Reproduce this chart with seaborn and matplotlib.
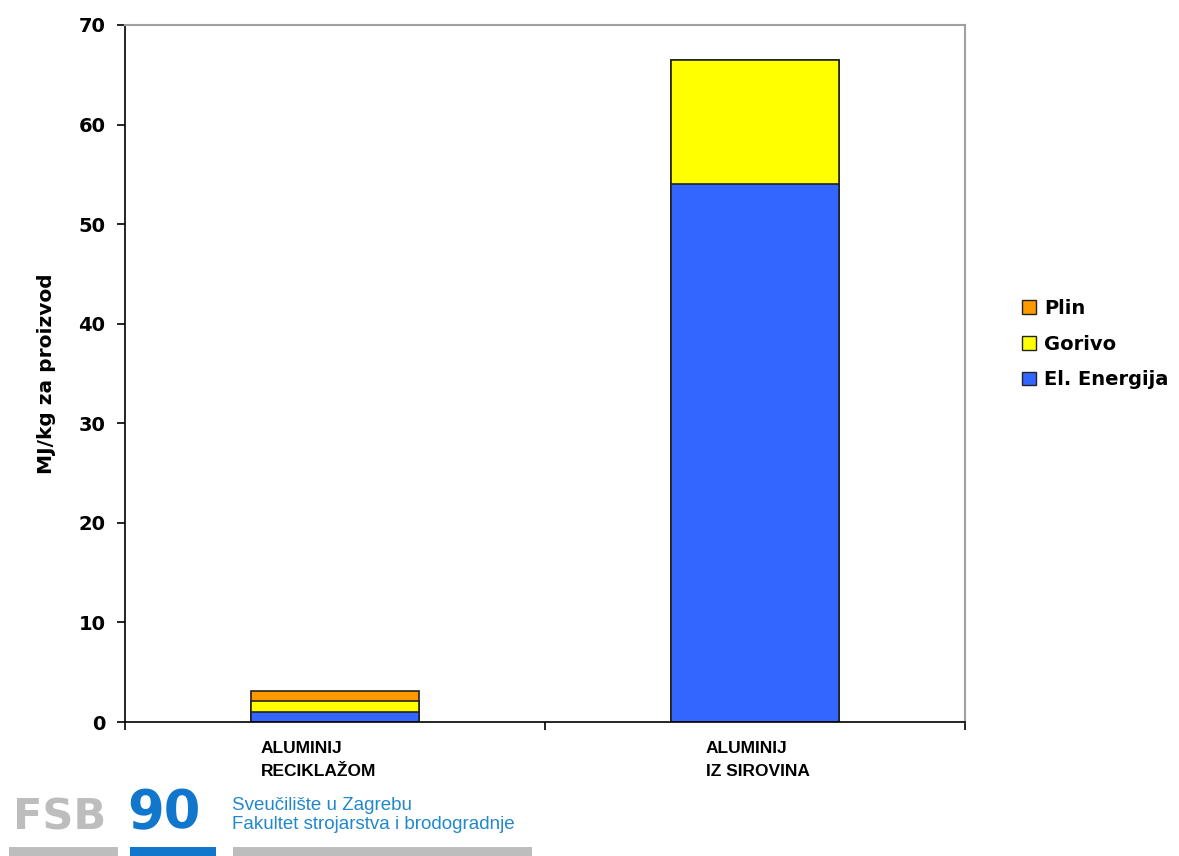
import matplotlib
matplotlib.use("Agg")

import matplotlib.pyplot as plt
import seaborn as sns
import pandas as pd
from matplotlib.patches import Patch, Rectangle

# --- data ---
categories = ["ALUMINIJ\nRECIKLAŽOM", "ALUMINIJ\nIZ SIROVINA"]
el_energija = [1.0, 54.0]
gorivo = [1.1, 12.5]
plin = [1.0, 0.0]

series_names = ["El. Energija", "Gorivo", "Plin"]
series_colors = ["#3366FF", "#FFFF00", "#FF9900"]

df = pd.DataFrame({
    "kategorija": categories,
    "El. Energija": el_energija,
    "Gorivo": gorivo,
    "Plin": plin,
})

sns.set_style("white")
plt.rcParams["font.family"] = ["DejaVu Sans"]
for k in ["text.color", "axes.labelcolor", "xtick.color", "ytick.color"]:
    plt.rcParams[k] = "black"

fig = plt.figure(figsize=(11.79, 8.56), dpi=100)
ax = fig.add_axes([0.106, 0.1565, 0.7125, 0.8143])

# stacked bars: draw cumulative totals from the top segment down
cum = df[series_names].cumsum(axis=1)
for name, color in reversed(list(zip(series_names, series_colors))):
    sns.barplot(x=df["kategorija"], y=cum[name], ax=ax, color=color,
                width=0.4, edgecolor="#222222", linewidth=1.2, saturation=1)

ax.set_ylim(0, 70)
ax.set_xlim(-0.5, 1.5)
ax.set_yticks(range(0, 71, 10))
ax.set_ylabel("MJ/kg za proizvod", fontsize=14.5, fontweight="bold", labelpad=16)
ax.set_xlabel("")

# category separators as x ticks, labels placed under the bars
ax.set_xticks([-0.5, 0.5, 1.5])
ax.set_xticklabels([])
label_x = [-0.176, 0.883]
for xpos, lab in zip(label_x, categories):
    ax.text(xpos, -1.9, lab, ha="left", va="top", fontsize=12.5, fontweight="bold",
            family=["Liberation Sans", "DejaVu Sans"], linespacing=1.7)

ax.tick_params(axis="both", direction="out", length=6, width=1.2, color="black",
               bottom=True, left=True)
ax.tick_params(axis="y", labelsize=14, pad=8)
for lbl in ax.get_yticklabels():
    lbl.set_fontweight("bold")
for s in ["left", "bottom"]:
    ax.spines[s].set_color("black")
    ax.spines[s].set_linewidth(1.2)
for s in ["top", "right"]:
    ax.spines[s].set_color("#A0A0A0")
    ax.spines[s].set_linewidth(1.5)

handles = [Patch(facecolor=c, edgecolor="#222222", label=n)
           for n, c in zip(series_names[::-1], series_colors[::-1])]
leg = fig.legend(handles=handles, loc="center left", bbox_to_anchor=(0.859, 0.598),
                 frameon=False, fontsize=14, handlelength=0.7, handleheight=0.7,
                 handletextpad=0.4, labelspacing=0.85, borderpad=0)
for t in leg.get_texts():
    t.set_fontweight("bold")

# institutional logo in the lower-left corner
fig.text(0.011, 0.021, "FSB", fontsize=31, fontweight="bold", color="#BDBDBD",
         va="bottom", ha="left")
fig.text(0.108, 0.019, "90", fontsize=38, fontweight="bold", color="#1177CC",
         va="bottom", ha="left")
fig.text(0.197, 0.069, "Sveučilište u Zagrebu\nFakultet strojarstva i brodogradnje",
         fontsize=13.5, color="#2288CC", va="top", ha="left",
         family=["Liberation Sans", "DejaVu Sans"], linespacing=1.15)
for x0, w, c in [(0.008, 0.092, "#BDBDBD"), (0.110, 0.073, "#1177CC"),
                 (0.198, 0.253, "#BDBDBD")]:
    fig.add_artist(Rectangle((x0, 0.0), w, 0.01, transform=fig.transFigure,
                             color=c, lw=0))

fig.savefig("out.png", dpi=100)
